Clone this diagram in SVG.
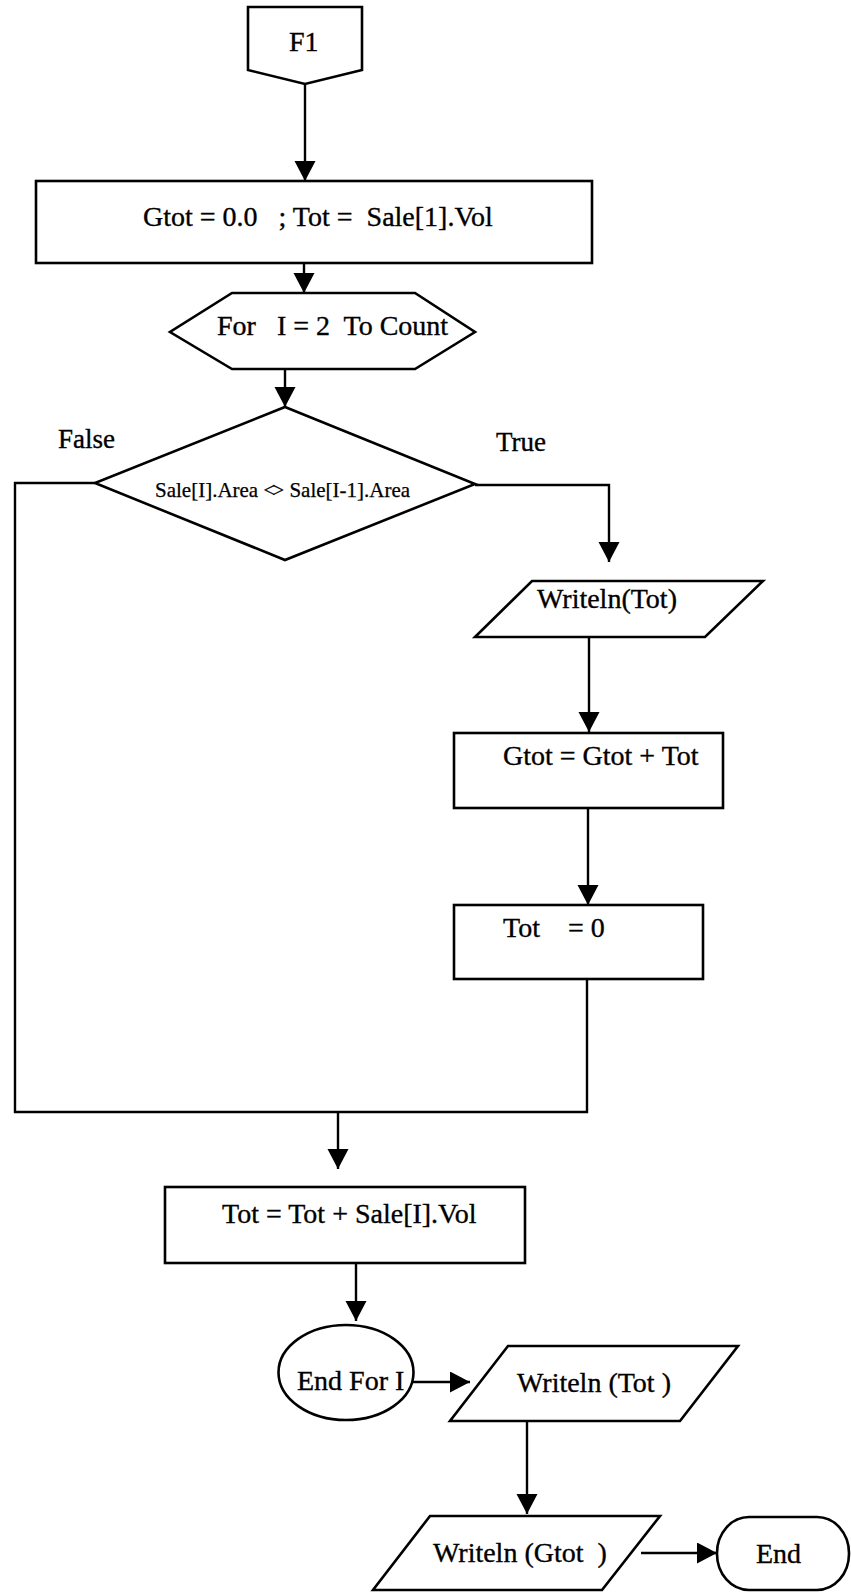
<svg xmlns="http://www.w3.org/2000/svg" width="851" height="1592" viewBox="0 0 851 1592">
  <style>
    .shape { fill: #ffffff; stroke: #000000; stroke-width: 2.6; stroke-linejoin: miter; }
    .wire { fill: none; stroke: #000000; stroke-width: 2.4; }
    .lbl { font-family: "Liberation Serif", "Times New Roman", serif; font-size: 28px; fill: #000000; stroke: #000000; stroke-width: 0.35; white-space: pre; }
    .small { font-size: 21px; stroke-width: 0.25; }
    .side { font-size: 27px; }
  </style>
  <defs>
    <marker id="arrow" markerUnits="userSpaceOnUse" markerWidth="22" markerHeight="22" refX="20" refY="10.5" orient="auto">
      <path d="M0,0 L20,10.5 L0,21 Z" fill="#000000"/>
    </marker>
  </defs>
  <rect x="0" y="0" width="851" height="1592" fill="#ffffff"/>

  <!-- connectors -->
  <g id="connectors">
    <path class="wire" d="M305,84 V181" marker-end="url(#arrow)"/>
    <path class="wire" d="M304,263 V293" marker-end="url(#arrow)"/>
    <path class="wire" d="M285,369 V407" marker-end="url(#arrow)"/>
    <path class="wire" d="M475,485 H609 V562" marker-end="url(#arrow)"/>
    <path class="wire" d="M589,637 V732" marker-end="url(#arrow)"/>
    <path class="wire" d="M588,808 V905" marker-end="url(#arrow)"/>
    <path class="wire" d="M95,483 H15 V1112 H587 V979"/>
    <path class="wire" d="M338,1112 V1169" marker-end="url(#arrow)"/>
    <path class="wire" d="M356,1263 V1321" marker-end="url(#arrow)"/>
    <path class="wire" d="M413,1382 H470" marker-end="url(#arrow)"/>
    <path class="wire" d="M527,1421 V1514" marker-end="url(#arrow)"/>
    <path class="wire" d="M641,1553 H717" marker-end="url(#arrow)"/>
  </g>

  <!-- entry point -->
  <g id="start">
    <polygon class="shape" points="248,7 362,7 362,70 305,84 248,70"/>
    <text class="lbl" x="289" y="51">F1</text>
  </g>

  <g id="init">
    <rect class="shape" x="36" y="181" width="556" height="82"/>
    <text class="lbl" x="143" y="226" xml:space="preserve">Gtot = 0.0   ; Tot =  Sale[1].Vol</text>
  </g>

  <g id="loop">
    <polygon class="shape" points="232,293 415,293 475,332 415,369 232,369 170,332"/>
    <text class="lbl" x="217" y="335" xml:space="preserve">For   I = 2  To Count</text>
  </g>

  <g id="decision">
    <polygon class="shape" points="285,407 475,484 285,560 95,483"/>
    <text class="lbl small" x="155" y="497">Sale[I].Area &lt;<tspan dx="-3">&gt;</tspan> Sale[I-1].Area</text>
  </g>

  <g id="label-false">
    <text class="lbl side" x="58" y="448">False</text>
  </g>
  <g id="label-true">
    <text class="lbl side" x="496" y="451">True</text>
  </g>

  <g id="write-tot">
    <polygon class="shape" points="532,581 763,581 705,637 475,637"/>
    <text class="lbl" x="537" y="608">Writeln(Tot)</text>
  </g>

  <g id="add-gtot">
    <rect class="shape" x="454" y="733" width="269" height="75"/>
    <text class="lbl" x="503" y="765">Gtot = Gtot + Tot</text>
  </g>

  <g id="reset-tot">
    <rect class="shape" x="454" y="905" width="249" height="74"/>
    <text class="lbl" x="503" y="937" xml:space="preserve">Tot    = 0</text>
  </g>

  <g id="accumulate">
    <rect class="shape" x="165" y="1187" width="360" height="76"/>
    <text class="lbl" x="222" y="1223">Tot = Tot + Sale[I].Vol</text>
  </g>

  <g id="end-for">
    <ellipse class="shape" cx="346" cy="1372.5" rx="67.5" ry="47.5"/>
    <text class="lbl" x="297" y="1390">End For I</text>
  </g>

  <g id="write-last-tot">
    <polygon class="shape" points="508,1346 738,1346 680,1421 450,1421"/>
    <text class="lbl" x="517" y="1392">Writeln (Tot )</text>
  </g>

  <g id="write-gtot">
    <polygon class="shape" points="430,1516 660,1516 602,1590 373,1590"/>
    <text class="lbl" x="433" y="1562" xml:space="preserve">Writeln (Gtot  )</text>
  </g>

  <g id="end">
    <rect class="shape" x="717" y="1517" width="132" height="73" rx="32" ry="36"/>
    <text class="lbl" x="756" y="1563">End</text>
  </g>
</svg>
